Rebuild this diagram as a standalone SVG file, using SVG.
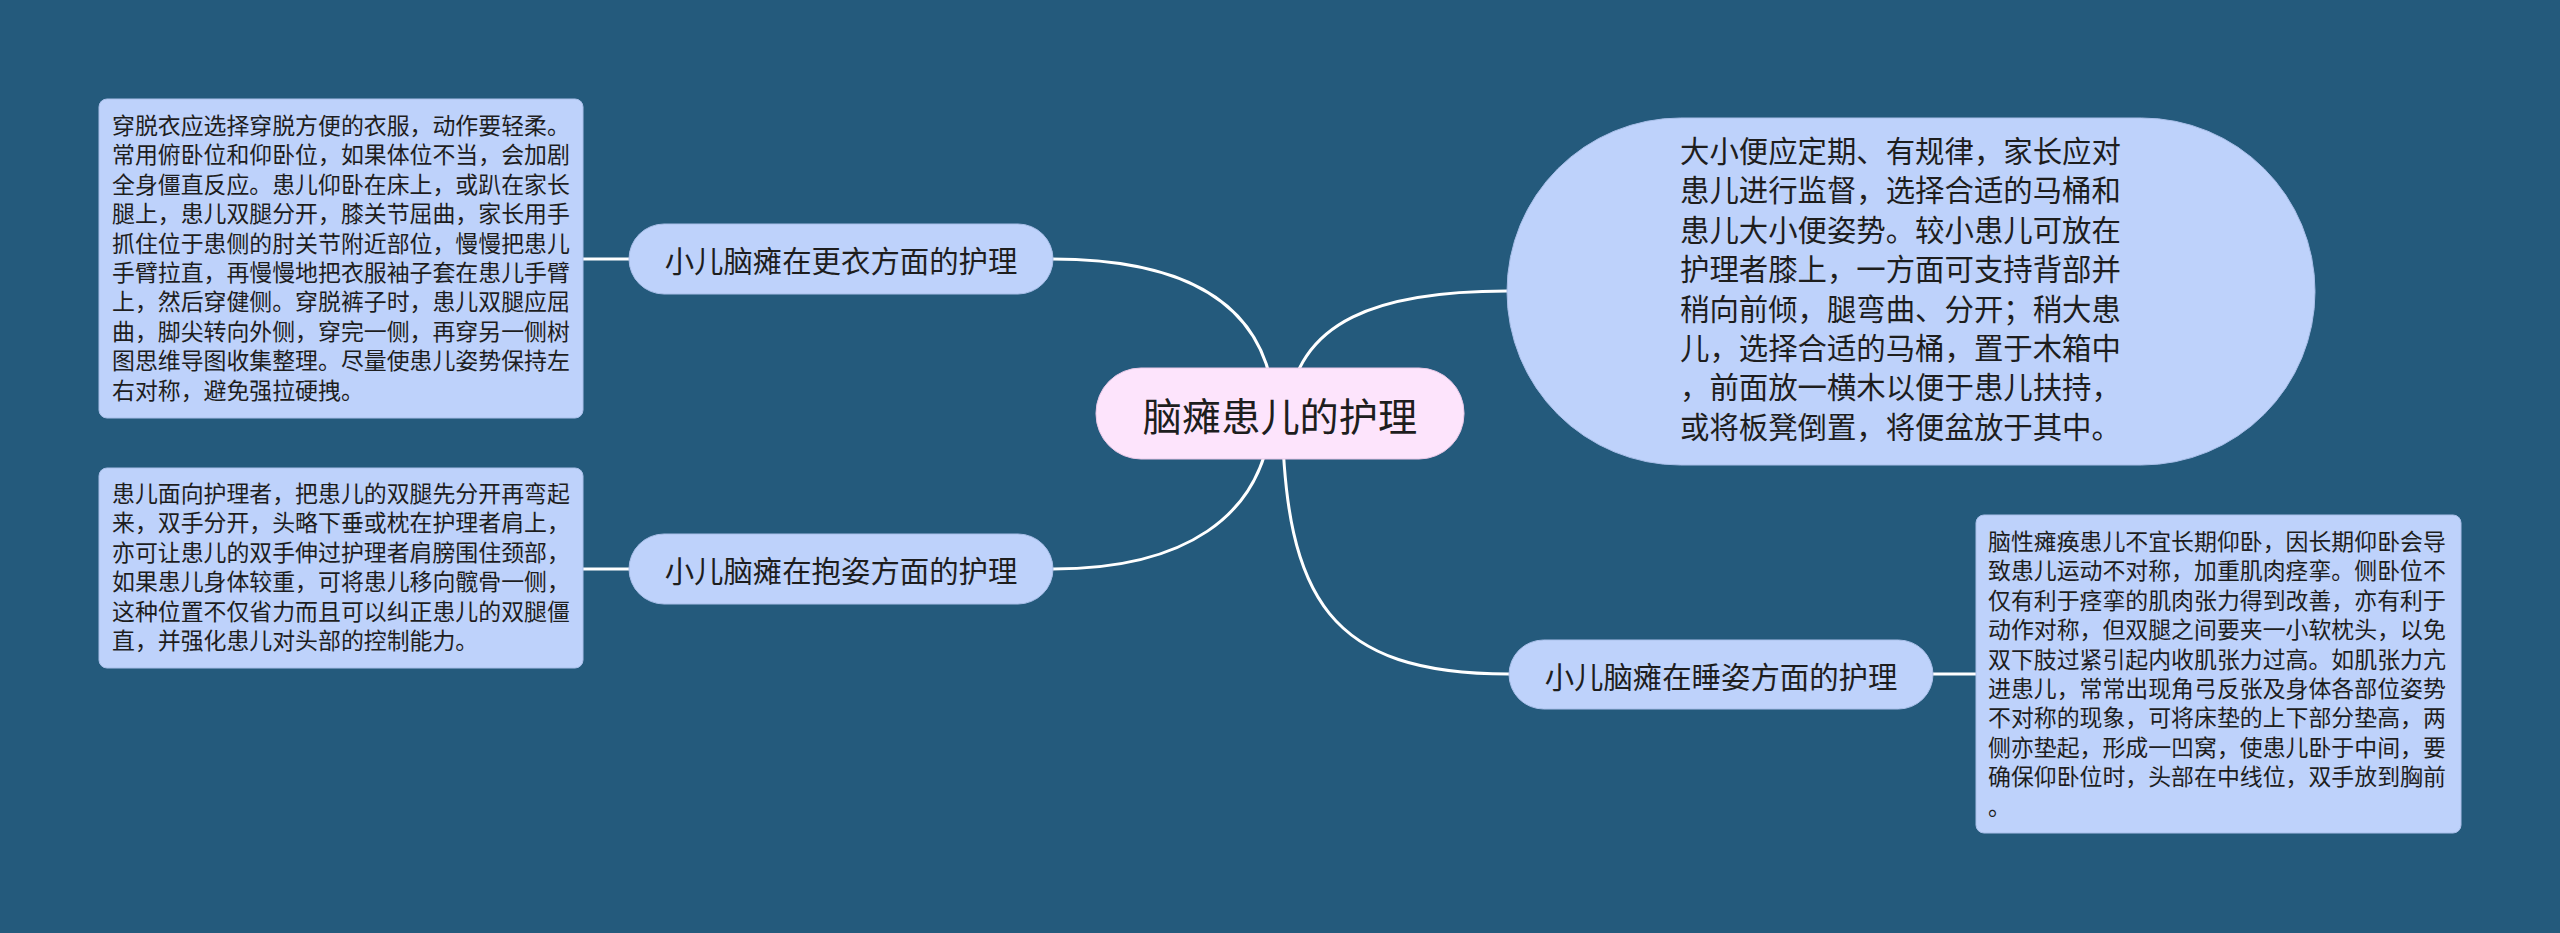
<svg xmlns="http://www.w3.org/2000/svg" width="2560" height="933" viewBox="0 0 2560 933">
<defs>
<style>
.bg{fill:#245a7c}
.leaf{fill:#bed2fb;stroke:#a9bfe9;stroke-width:1}
.branch{fill:#bed2fb;stroke:#a9bfe9;stroke-width:1}
.root{fill:#fde4fc;stroke:#e9c9e8;stroke-width:1}
.t{font-family:"Noto Sans CJK SC","Noto Sans",sans-serif;fill:#1e1e1e}
.small{font-size:22.9px}
.mid{font-size:29.4px}
.big{font-size:39.2px}
.c{stroke:#ffffff;stroke-width:3;fill:none;stroke-linecap:round}
</style>
</defs>
<rect class="bg" x="0" y="0" width="2560" height="933"/>
<g id="connectors">
<path class="c" d="M1052,259 C1180,259 1270,300 1275,413"/>
<path class="c" d="M1507,291 C1380,291 1295,320 1288,413"/>
<path class="c" d="M1053,569 C1180,569 1265,520 1272,413"/>
<path class="c" d="M1509,674 C1330,674 1285,600 1282,413"/>
<path class="c" d="M583,259 L629,259"/>
<path class="c" d="M583,569 L629,569"/>
<path class="c" d="M1933,674 L1976,674"/>
</g>
<g id="root">
<rect class="root" x="1096" y="368" width="368" height="91" rx="45" ry="45"/>
<text class="t big" x="1280" y="413.5" text-anchor="middle" dominant-baseline="central">脑瘫患儿的护理</text>
</g>
<g id="branch-dressing">
<rect class="branch" x="629" y="224" width="424" height="70" rx="35" ry="35"/>
<text class="t mid" x="841" y="259" text-anchor="middle" dominant-baseline="central">小儿脑瘫在更衣方面的护理</text>
</g>
<g id="branch-holding">
<rect class="branch" x="629" y="534" width="424" height="70" rx="35" ry="35"/>
<text class="t mid" x="841" y="569" text-anchor="middle" dominant-baseline="central">小儿脑瘫在抱姿方面的护理</text>
</g>
<g id="branch-sleeping">
<rect class="branch" x="1509" y="640" width="424" height="69" rx="34.5" ry="34.5"/>
<text class="t mid" x="1721" y="674.5" text-anchor="middle" dominant-baseline="central">小儿脑瘫在睡姿方面的护理</text>
</g>
<g id="leaf-toilet">
<rect class="leaf" x="1507" y="118" width="808" height="347" rx="173.5" ry="173.5"/>
<text class="t mid">
<tspan x="1680" y="162">大小便应定期、有规律，家长应对</tspan>
<tspan x="1680" y="201.4">患儿进行监督，选择合适的马桶和</tspan>
<tspan x="1680" y="240.8">患儿大小便姿势。较小患儿可放在</tspan>
<tspan x="1680" y="280.2">护理者膝上，一方面可支持背部并</tspan>
<tspan x="1680" y="319.6">稍向前倾，腿弯曲、分开；稍大患</tspan>
<tspan x="1680" y="359">儿，选择合适的马桶，置于木箱中</tspan>
<tspan x="1680" y="398.4">，前面放一横木以便于患儿扶持，</tspan>
<tspan x="1680" y="437.8">或将板凳倒置，将便盆放于其中。</tspan>
</text>
</g>
<g id="leaf-dressing">
<rect class="leaf" x="99" y="99" width="484" height="319" rx="8" ry="8"/>
<text class="t small">
<tspan x="112" y="134">穿脱衣应选择穿脱方便的衣服，动作要轻柔。</tspan>
<tspan x="112" y="163.4">常用俯卧位和仰卧位，如果体位不当，会加剧</tspan>
<tspan x="112" y="192.8">全身僵直反应。患儿仰卧在床上，或趴在家长</tspan>
<tspan x="112" y="222.2">腿上，患儿双腿分开，膝关节屈曲，家长用手</tspan>
<tspan x="112" y="251.6">抓住位于患侧的肘关节附近部位，慢慢把患儿</tspan>
<tspan x="112" y="281">手臂拉直，再慢慢地把衣服袖子套在患儿手臂</tspan>
<tspan x="112" y="310.4">上，然后穿健侧。穿脱裤子时，患儿双腿应屈</tspan>
<tspan x="112" y="339.8">曲，脚尖转向外侧，穿完一侧，再穿另一侧树</tspan>
<tspan x="112" y="369.2">图思维导图收集整理。尽量使患儿姿势保持左</tspan>
<tspan x="112" y="398.6">右对称，避免强拉硬拽。</tspan>
</text>
</g>
<g id="leaf-holding">
<rect class="leaf" x="99" y="468" width="484" height="200" rx="8" ry="8"/>
<text class="t small">
<tspan x="112" y="502">患儿面向护理者，把患儿的双腿先分开再弯起</tspan>
<tspan x="112" y="531.4">来，双手分开，头略下垂或枕在护理者肩上，</tspan>
<tspan x="112" y="560.8">亦可让患儿的双手伸过护理者肩膀围住颈部，</tspan>
<tspan x="112" y="590.2">如果患儿身体较重，可将患儿移向髋骨一侧，</tspan>
<tspan x="112" y="619.6">这种位置不仅省力而且可以纠正患儿的双腿僵</tspan>
<tspan x="112" y="649">直，并强化患儿对头部的控制能力。</tspan>
</text>
</g>
<g id="leaf-sleeping">
<rect class="leaf" x="1976" y="515" width="485" height="318" rx="8" ry="8"/>
<text class="t small">
<tspan x="1988" y="550">脑性瘫痪患儿不宜长期仰卧，因长期仰卧会导</tspan>
<tspan x="1988" y="579.4">致患儿运动不对称，加重肌肉痉挛。侧卧位不</tspan>
<tspan x="1988" y="608.8">仅有利于痉挛的肌肉张力得到改善，亦有利于</tspan>
<tspan x="1988" y="638.2">动作对称，但双腿之间要夹一小软枕头，以免</tspan>
<tspan x="1988" y="667.6">双下肢过紧引起内收肌张力过高。如肌张力亢</tspan>
<tspan x="1988" y="697">进患儿，常常出现角弓反张及身体各部位姿势</tspan>
<tspan x="1988" y="726.4">不对称的现象，可将床垫的上下部分垫高，两</tspan>
<tspan x="1988" y="755.8">侧亦垫起，形成一凹窝，使患儿卧于中间，要</tspan>
<tspan x="1988" y="785.2">确保仰卧位时，头部在中线位，双手放到胸前</tspan>
<tspan x="1988" y="814.6">。</tspan>
</text>
</g>
</svg>
